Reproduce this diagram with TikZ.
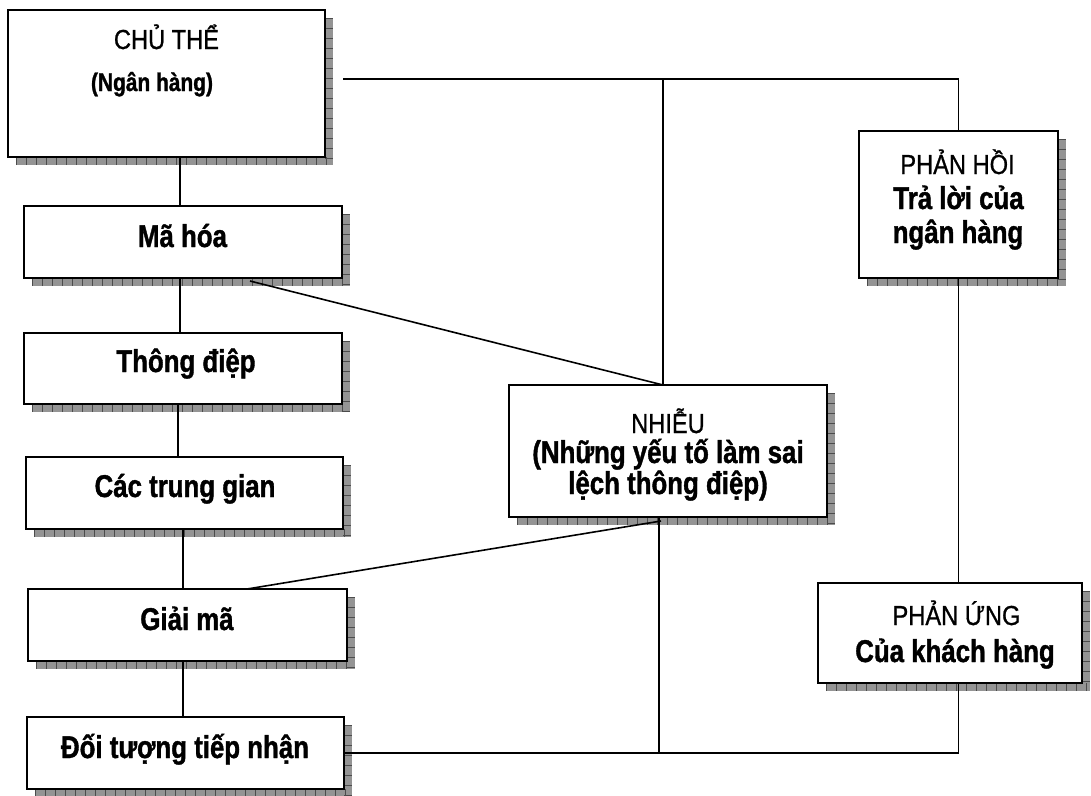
\documentclass[tikz,border=0pt]{standalone}
\usepackage{fontspec}
\setmainfont{Liberation Sans}
\newfontfamily\nbf[FakeStretch=0.82,FakeBold=1.2]{Liberation Sans Bold}
\newfontfamily\nrg[FakeStretch=0.86,FakeBold=0.8]{Liberation Sans}
\usetikzlibrary{calc}
\newcommand\shbox[5]{%
  \fill[shadowfill] (#2+8,#3+8) rectangle (#4+8,#5+8);
  \draw[shadowgrid] (#2+8,#5+4) -- (#4+8,#5+4);
  \draw[shadowgrid] (#4+4,#3+8) -- (#4+4,#5+8);
  \node[box, minimum width=#4-#2, minimum height=#5-#3] (#1) at (#2,#3) {};
}
\begin{document}
\begin{tikzpicture}[x=1pt,y=-1pt,
  box/.style={draw=black, line width=2pt, fill=white, rectangle, inner sep=0pt, outer sep=0pt, anchor=north west},
  shadowfill/.style={fill=black!42},
  shadowgrid/.style={draw=black!70, line width=8pt, dash pattern=on 1pt off 9pt},
  conn/.style={line width=1.6pt},
  reg/.style={anchor=base, font=\nrg\fontsize{27.5}{32}\selectfont, inner sep=0pt},
  bld/.style={anchor=base, font=\nbf\fontsize{31.5}{36}\selectfont, inner sep=0pt},
  bldsmall/.style={anchor=base, font=\nbf\fontsize{25.5}{30}\selectfont, inner sep=0pt}]
\useasboundingbox (0,0) rectangle (1091,795);
\fill[white] (0,0) rectangle (1091,795);

% boxes
\shbox{chu}{8}{10}{325}{157}
\shbox{ma}{24}{206}{342}{278}
\shbox{thong}{24}{333}{342}{404}
\shbox{cac}{26}{457}{343}{529}
\shbox{giai}{28}{589}{347}{661}
\shbox{doi}{27}{717}{344}{789}
\shbox{nhieu}{509}{385}{827}{517}
\shbox{phanhoi}{859}{131}{1058}{278}
\shbox{phanung}{818}{583}{1082}{683}

% texts
\node[reg] (tchu1) at (166.5,49) {CHỦ THỂ};
\node[bldsmall] (tchu2) at (152,91) {(Ngân hàng)};
\node[bld] (tma) at (182.5,247) {Mã hóa};
\node[bld] (tthong) at (186,372) {Thông điệp};
\node[bld] (tcac) at (185,497) {Các trung gian};
\node[bld] (tgiai) at (187,630) {Giải mã};
\node[bld] (tdoi) at (185,758) {Đối tượng tiếp nhận};
\node[reg] (tn1) at (668,433) {NHIỄU};
\node[bld] (tn2) at (668,463) {(Những yếu tố làm sai};
\node[bld] (tn3) at (668,494) {lệch thông điệp)};
\node[reg] (tph1) at (957.5,174) {PHẢN HỒI};
\node[bld] (tph2) at (958.5,209) {Trả lời của};
\node[bld] (tph3) at (958,243) {ngân hàng};
\node[reg] (tpu1) at (956.5,625) {PHẢN ỨNG};
\node[bld] (tpu2) at (955,662) {Của khách hàng};

% connectors
\coordinate (hs) at (343,79);
\coordinate (nt) at ($(nhieu.north)+(-5,0)$);
\coordinate (nb) at ($(nhieu.south)+(-9,0)$);
\draw[conn] (chu.south -| 180,0) -- (ma.north -| 180,0);
\draw[conn] (ma.south -| 180,0) -- (thong.north -| 180,0);
\draw[conn] (thong.south -| 178,0) -- (cac.north -| 178,0);
\draw[conn] (cac.south -| 183,0) -- (giai.north -| 183,0);
\draw[conn] (giai.south -| 183,0) -- (doi.north -| 183,0);
\draw[conn] ($(ma.south)+(67,3)$) -- (nt);
\draw[conn] (nt) -- (nt |- hs);
\draw[conn] (hs) -| (phanhoi.north);
\draw[conn] (phanhoi.south) -- (phanhoi.south |- phanung.north);
\draw[conn] ($(giai.north)+(59.5,0)$) -- ($(nhieu.south)+(-7,4)$);
\draw[conn] (nb) -- (nb |- doi.east);
\draw[conn] (doi.east) -| (phanung.south -| phanhoi.south);
\end{tikzpicture}
\end{document}
